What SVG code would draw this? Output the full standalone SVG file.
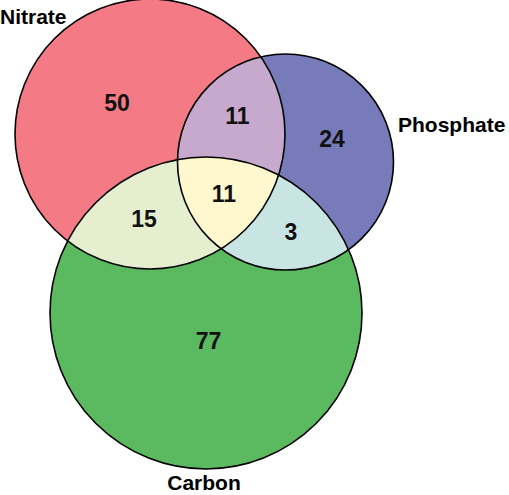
<svg xmlns="http://www.w3.org/2000/svg" width="509" height="495" viewBox="0 0 509 495">
<style>
.lbl{font-family:"Liberation Sans",Arial,sans-serif;font-weight:bold;font-size:21px;fill:#000}
.num{font-family:"Liberation Sans",Arial,sans-serif;font-weight:bold;font-size:23px;fill:#111;text-anchor:middle}
.ring{fill:none;stroke:#000;stroke-width:1.6}
</style>
<defs>
<circle id="cN" cx="150" cy="134" r="135"/>
<circle id="cP" cx="285.5" cy="162" r="108"/>
<circle id="cC" cx="206" cy="313" r="156"/>
<clipPath id="clipN"><use href="#cN"/></clipPath>
<clipPath id="clipP"><use href="#cP"/></clipPath>
</defs>
<rect width="509" height="495" fill="#fff"/>
<g id="nitrate"><use href="#cN" fill="#F47B85"/></g>
<g id="phosphate"><use href="#cP" fill="#787BBA"/></g>
<g id="carbon"><use href="#cC" fill="#5BBA5F"/></g>
<g id="overlaps">
<use href="#cP" fill="#C6A9CD" clip-path="url(#clipN)"/>
<use href="#cC" fill="#E5EFD0" clip-path="url(#clipN)"/>
<use href="#cC" fill="#C8E5E3" clip-path="url(#clipP)"/>
<g clip-path="url(#clipP)"><use href="#cC" fill="#FFF8CE" clip-path="url(#clipN)"/></g>
</g>
<g id="outlines">
<use href="#cN" class="ring"/>
<use href="#cP" class="ring"/>
<use href="#cC" class="ring"/>
</g>
<g id="labels">
<text class="lbl" x="0" y="24">Nitrate</text>
<text class="lbl" x="398" y="132">Phosphate</text>
<text class="lbl" x="204" y="490" text-anchor="middle">Carbon</text>
</g>
<g id="counts">
<text class="num" x="117" y="111">50</text>
<text class="num" x="237.5" y="123.5">11</text>
<text class="num" x="332" y="147">24</text>
<text class="num" x="224" y="202">11</text>
<text class="num" x="144" y="227">15</text>
<text class="num" x="291" y="240">3</text>
<text class="num" x="208.5" y="349">77</text>
</g>
</svg>
